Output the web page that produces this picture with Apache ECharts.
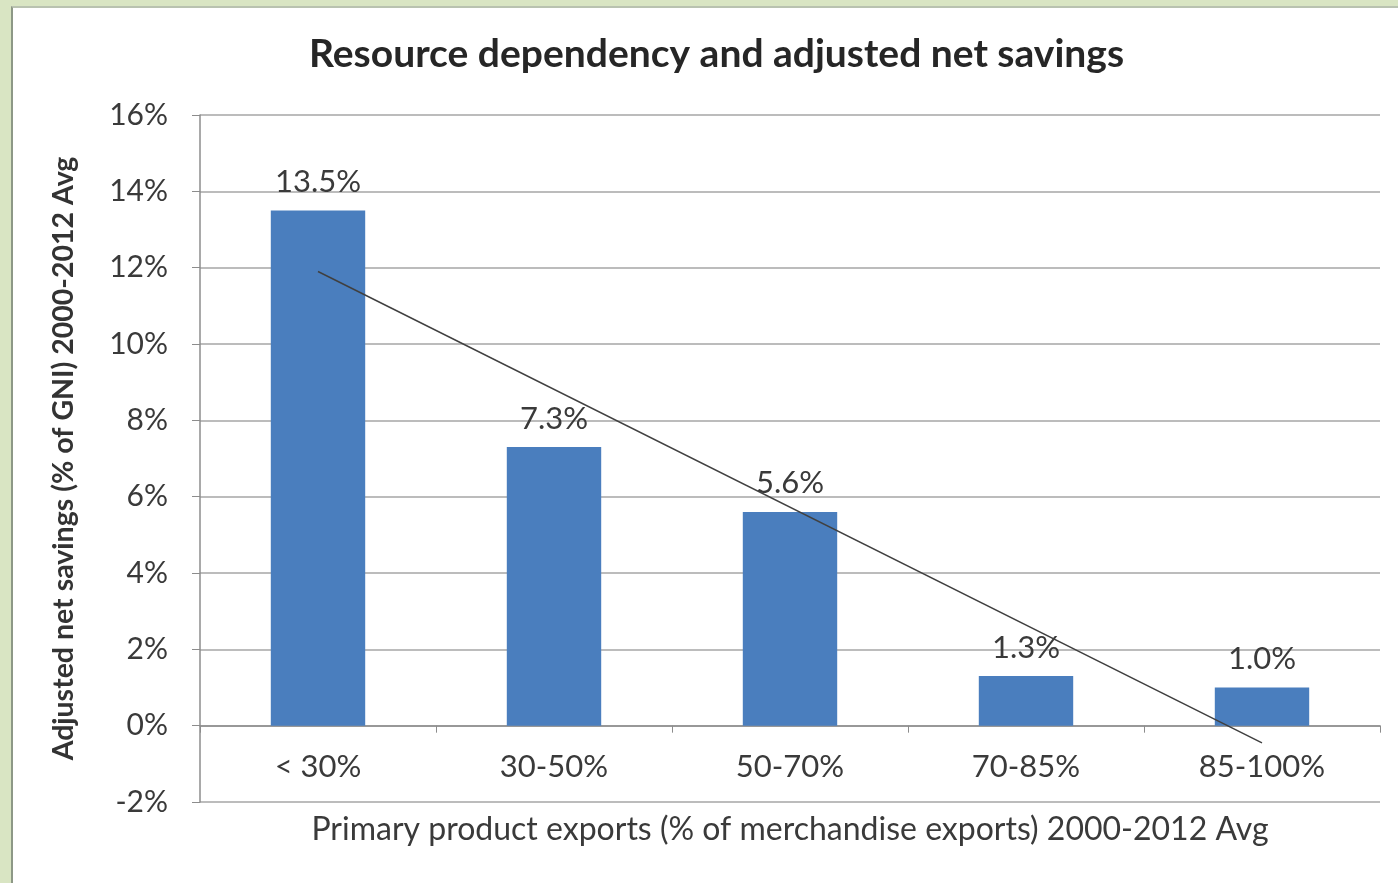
<!DOCTYPE html>
<html>
<head>
<meta charset="utf-8">
<script src="https://cdn.jsdelivr.net/npm/echarts@6/dist/echarts.min.js"></script>
<style>
html,body{margin:0;padding:0;width:1398px;height:883px;overflow:hidden;background:#d9e5c3;}
#frame{position:absolute;left:11px;top:6px;right:0;bottom:0;background:#ffffff;border-left:2px solid #8d9886;border-top:2px solid #b9c2b0;}
#chart{position:absolute;left:0;top:0;width:1398px;height:883px;}
</style>
</head>
<body>
<div id="frame"></div>
<div id="chart"></div>
<script>
const categories = ['< 30%', '30-50%', '50-70%', '70-85%', '85-100%'];
const savings = [13.5, 7.3, 5.6, 1.3, 1.0];
const trendEnds = [11.9, -0.45];
const yTicks = { min: -2, max: 16, step: 2 };

const trendData = categories.map((c, i) => i === 0 ? trendEnds[0] : (i === categories.length - 1 ? trendEnds[1] : null));

const font = 'Lato, "Open Sans", sans-serif';
const txt = '#3a3a3a';
const chart = echarts.init(document.getElementById('chart'), null, { renderer: 'canvas' });
chart.setOption({
  backgroundColor: 'transparent',
  animation: false,
  title: {
    text: 'Resource dependency and adjusted net savings',
    left: 304, top: 30,
    textStyle: { fontFamily: font, fontWeight: 'bold', fontSize: 39, color: '#262626' }
  },
  grid: { left: 200, right: 18, top: 115, bottom: 81, outerBoundsMode: 'none', containLabel: false },
  xAxis: {
    type: 'category',
    data: categories,
    axisLine: { onZero: true, lineStyle: { color: '#8c8c8c', width: 1.5 } },
    axisTick: { show: true, alignWithLabel: false, length: 7, lineStyle: { color: '#8c8c8c' } },
    axisLabel: { fontFamily: font, fontSize: 31, color: txt, margin: -51 },
    name: 'Primary product exports (% of merchandise exports) 2000-2012 Avg',
    nameLocation: 'middle',
    nameGap: 12,
    nameTextStyle: { fontFamily: font, fontSize: 32, color: txt }
  },
  yAxis: {
    type: 'value',
    min: yTicks.min, max: yTicks.max, interval: yTicks.step,
    axisLine: { show: true, lineStyle: { color: '#8c8c8c', width: 1.5 } },
    axisTick: { show: true, length: 8, lineStyle: { color: '#8c8c8c' } },
    axisLabel: { fontFamily: font, fontSize: 30, color: txt, margin: 32, formatter: '{value}%' },
    splitLine: { lineStyle: { color: '#a6a6a6', width: 1.5 } },
    name: 'Adjusted net savings (% of GNI) 2000-2012 Avg',
    nameLocation: 'middle',
    nameGap: 122,
    nameTextStyle: { fontFamily: font, fontSize: 28.5, fontWeight: 'bold', color: '#333333' }
  },
  series: [
    {
      type: 'bar',
      data: savings,
      barWidth: '40%',
      itemStyle: { color: '#4a7ebe' },
      label: {
        show: true, position: 'top', distance: 13,
        fontFamily: font, fontSize: 31, color: txt,
        formatter: p => p.value.toFixed(1) + '%'
      },
      z: 2
    },
    {
      type: 'line',
      data: trendData,
      connectNulls: true,
      showSymbol: false,
      symbol: 'none',
      lineStyle: { color: '#404040', width: 1.5 },
      z: 3
    }
  ]
});
</script>
</body>
</html>
